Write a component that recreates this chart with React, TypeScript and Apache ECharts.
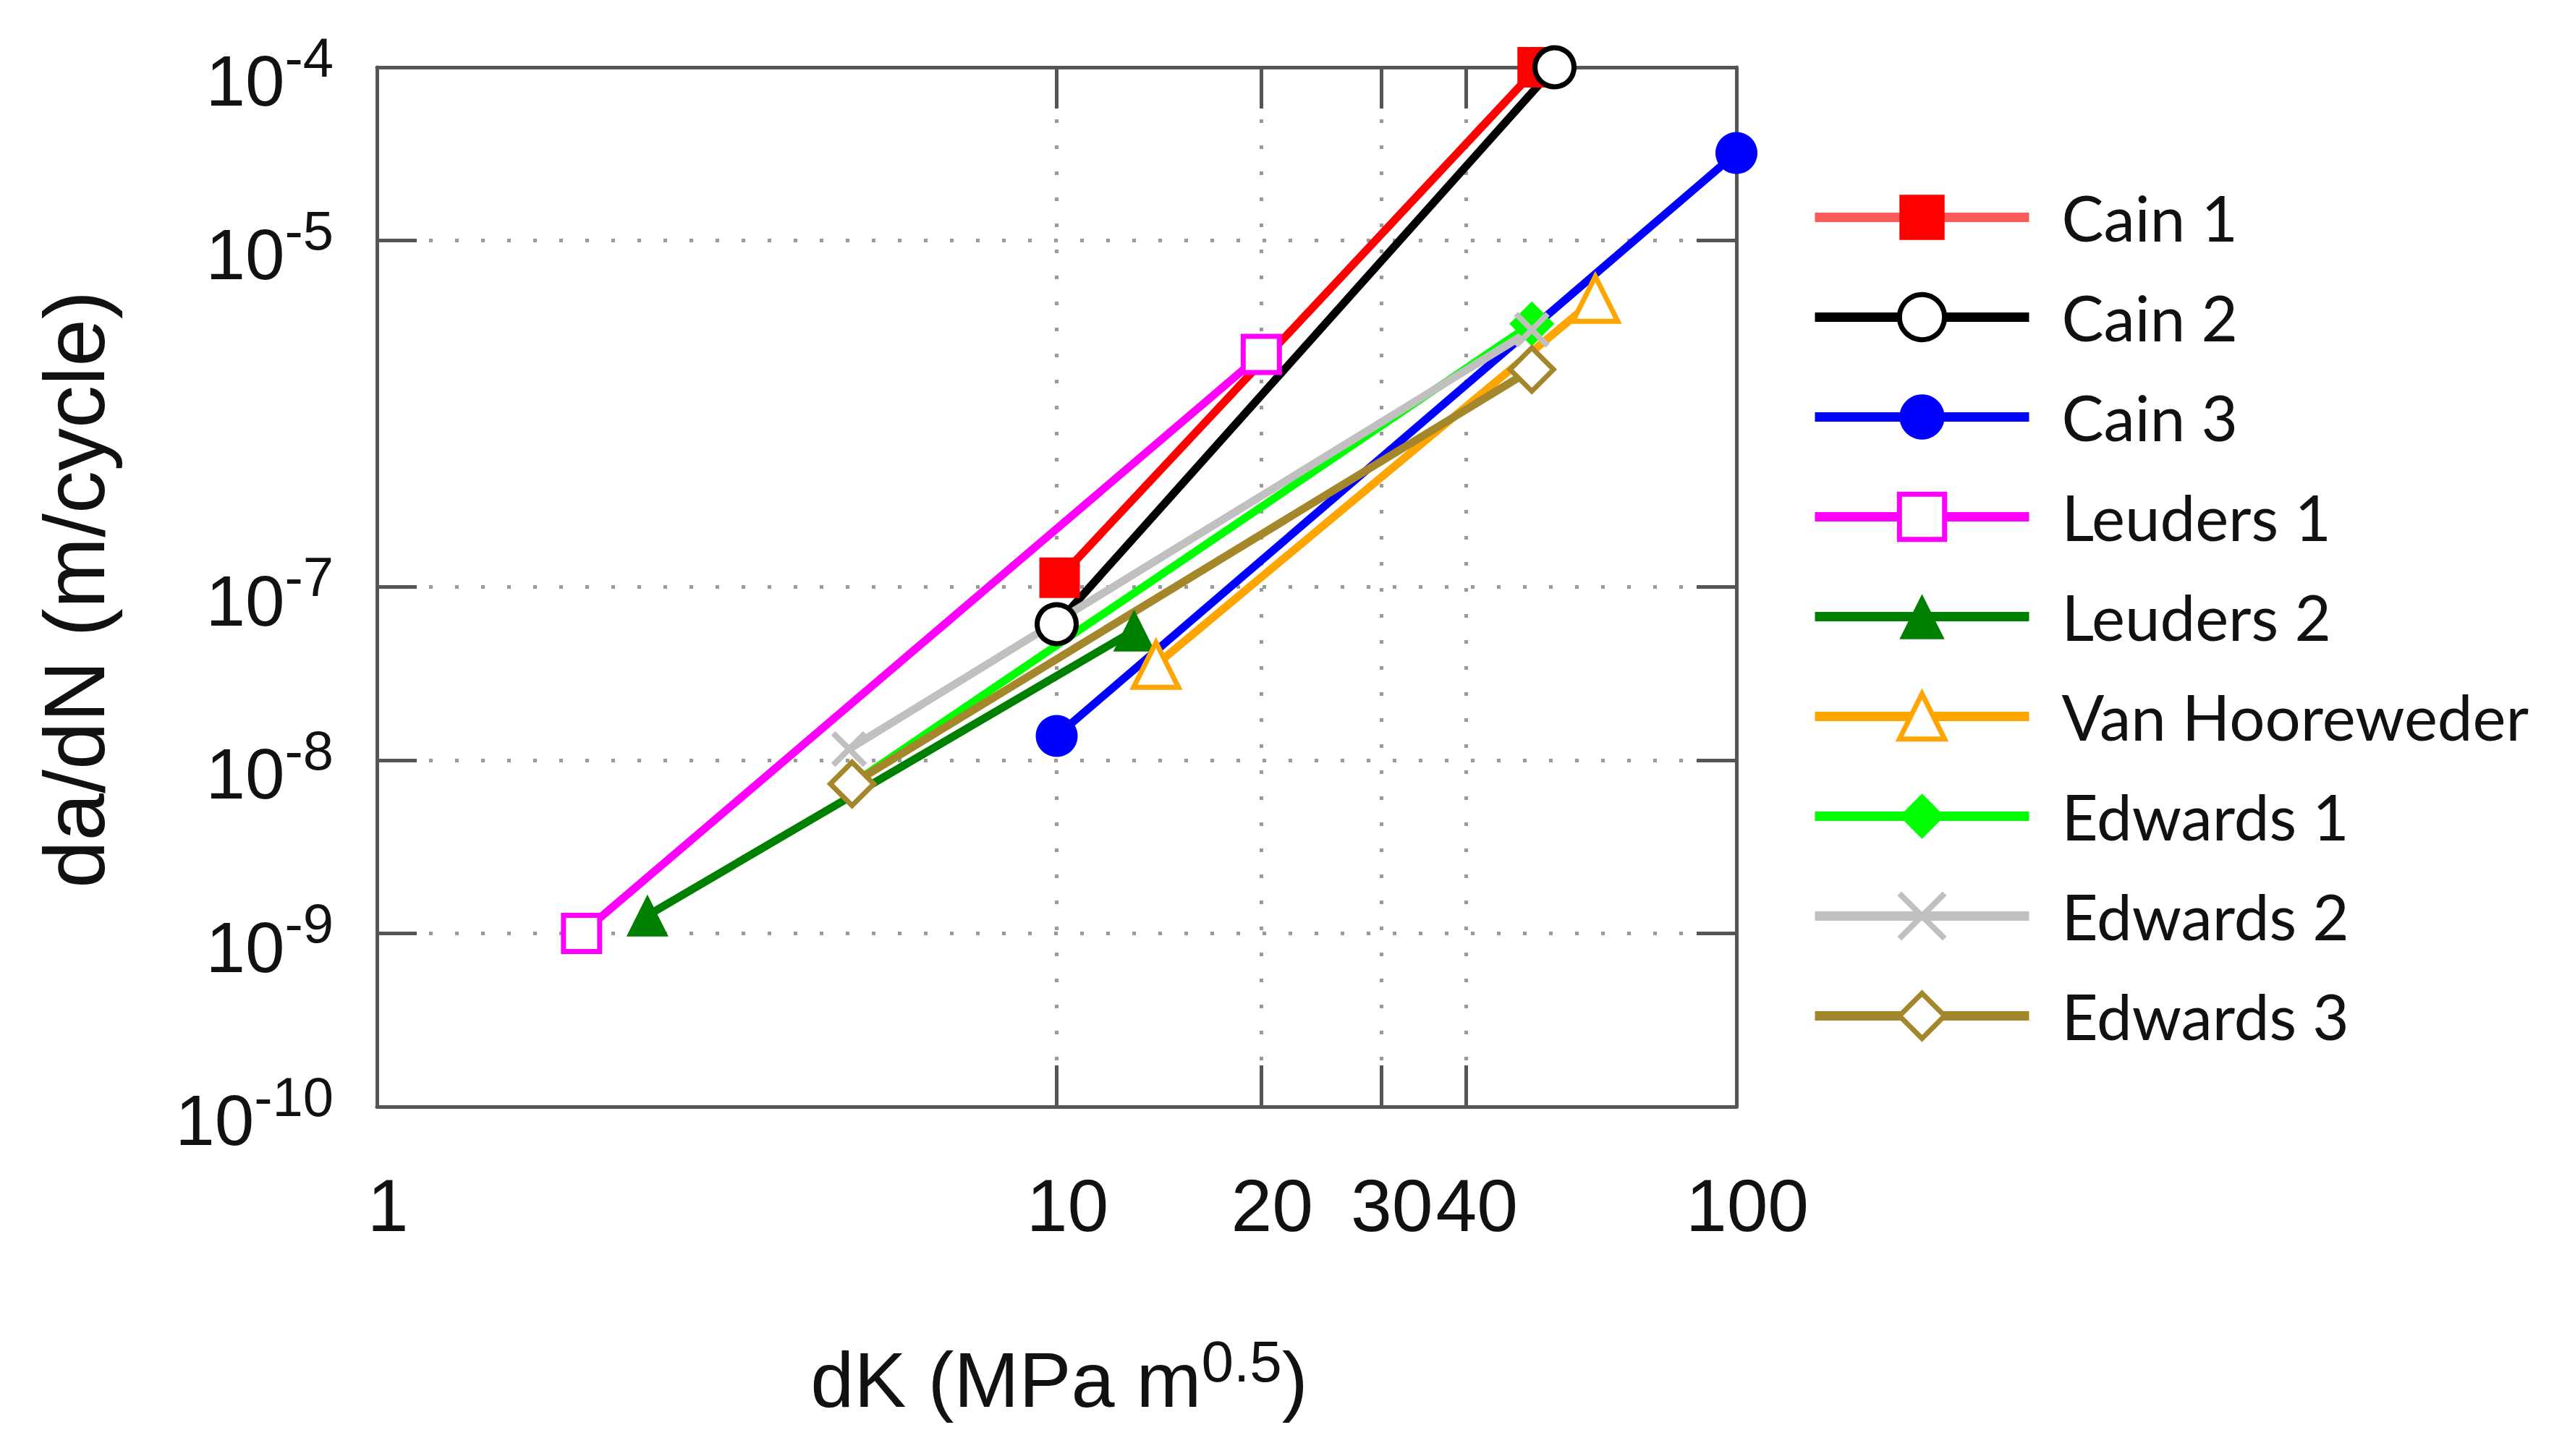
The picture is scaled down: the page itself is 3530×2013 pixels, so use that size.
import React, { useEffect, useRef } from "react";
import * as echarts from "echarts";

// ---------- data ----------
const seriesNames = [
  "Cain 1",
  "Cain 2",
  "Cain 3",
  "Leuders 1",
  "Leuders 2",
  "Van Hooreweder",
  "Edwards 1",
  "Edwards 2",
  "Edwards 3",
];

const cain1DK = [10.1, 51];
const cain1Rate = [1.13e-7, 1e-4];
const cain2DK = [10, 54];
const cain2Rate = [6.1e-8, 1e-4];
const cain3DK = [10, 100];
const cain3Rate = [1.38e-8, 3.2e-5];
const leuders1DK = [2, 20];
const leuders1Rate = [1e-9, 2.2e-6];
const leuders2DK = [2.5, 13];
const leuders2Rate = [1.27e-9, 5.6e-8];
const vanHoorewederDK = [14, 62];
const vanHoorewederRate = [3.55e-8, 4.6e-6];
const edwards1DK = [5, 50];
const edwards1Rate = [7.3e-9, 3.3e-6];
const edwards2DK = [4.95, 50];
const edwards2Rate = [1.16e-8, 3.05e-6];
const edwards3DK = [5, 50];
const edwards3Rate = [7.3e-9, 1.8e-6];

const xTickValues = [10, 20, 30, 40];
const xLabelValues = [1, 10, 20, 30, 40, 100];
const yTickValues = [1e-9, 1e-8, 1e-7, 1e-5];
const yLabelValues = [1e-10, 1e-9, 1e-8, 1e-7, 1e-5, 1e-4];

const xTitle = "dK (MPa m";
const xTitleSup = "0.5";
const yTitle = "da/dN (m/cycle)";

// ---------- styles ----------
const dkLists = [cain1DK, cain2DK, cain3DK, leuders1DK, leuders2DK, vanHoorewederDK, edwards1DK, edwards2DK, edwards3DK];
const rateLists = [cain1Rate, cain2Rate, cain3Rate, leuders1Rate, leuders2Rate, vanHoorewederRate, edwards1Rate, edwards2Rate, edwards3Rate];

const CROSS = "path://M0,0L10,10M10,0L0,10";
const seriesStyles = [
  { color: "#ff0000", fill: "#ff0000", symbol: "rect", size: 56, border: 0, legendLine: "#ff5a5a" },
  { color: "#000000", fill: "#ffffff", symbol: "circle", size: 54, border: 7 },
  { color: "#0000ff", fill: "#0000ff", symbol: "circle", size: 58, border: 0 },
  { color: "#ff00ff", fill: "#ffffff", symbol: "rect", size: 50, border: 7 },
  { color: "#008000", fill: "#008000", symbol: "triangle", size: 58, border: 0 },
  { color: "#ffa500", fill: "#ffffff", symbol: "triangle", size: 62, border: 7 },
  { color: "#00ff00", fill: "#00ff00", symbol: "diamond", size: 62, border: 0 },
  { color: "#c0c0c0", fill: "#c0c0c0", symbol: CROSS, size: 44, border: 8 },
  { color: "#a5872b", fill: "#ffffff", symbol: "diamond", size: 60, border: 7 },
];

const AXIS_COLOR = "#555555";
const GRID_COLOR = "#9a9a9a";
const NUM_FONT = "'Liberation Sans', Arial, sans-serif";
const LEGEND_FONT = "Lato, 'Open Sans', sans-serif";

function buildOption() {
  const series = seriesNames.map((name, i) => {
    const st = seriesStyles[i];
    return {
      type: "line",
      name,
      data: dkLists[i].map((x, j) => [x, rateLists[i][j]]),
      symbol: st.symbol,
      symbolSize: st.size,
      clip: false,
      lineStyle: { color: st.color, width: 11 },
      itemStyle: { color: st.fill, borderColor: st.color, borderWidth: st.border },
      emphasis: { disabled: true },
    };
  });

  const legendData = seriesNames.map((name, i) => {
    const st = seriesStyles[i];
    return {
      name,
      itemStyle: { color: st.fill, borderColor: st.color, borderWidth: st.border },
      lineStyle: { color: st.legendLine || st.color, width: 13 },
    };
  });

  const axisLine = { show: true, lineStyle: { color: AXIS_COLOR, width: 5 } };
  const tickStyle = { color: AXIS_COLOR, width: 5 };
  const gridLine = { show: true, lineStyle: { color: GRID_COLOR, width: 5, type: [5, 31] } };

  return {
    animation: false,
    backgroundColor: "#ffffff",
    grid: { left: 521, top: 93, width: 1879, height: 1437 },
    xAxis: [
      {
        type: "log",
        logBase: 10,
        min: 1,
        max: 100,
        position: "bottom",
        axisLine,
        axisTick: { show: true, inside: true, length: 57, customValues: xTickValues, lineStyle: tickStyle },
        axisLabel: {
          customValues: xLabelValues,
          margin: 86,
          fontSize: 102,
          fontFamily: NUM_FONT,
          color: "#111111",
          padding: [0, 0, 0, 30],
          formatter: (v: number) => String(Math.round(v)),
        },
        splitLine: gridLine,
      },
      {
        type: "log",
        logBase: 10,
        min: 1,
        max: 100,
        position: "top",
        axisLine,
        axisTick: { show: true, inside: true, length: 57, customValues: xTickValues, lineStyle: tickStyle },
        axisLabel: { show: false },
        splitLine: { show: false },
      },
    ],
    yAxis: [
      {
        type: "log",
        logBase: 10,
        min: 1e-10,
        max: 1e-4,
        position: "left",
        axisLine,
        axisTick: { show: true, inside: true, length: 55, customValues: yTickValues, lineStyle: tickStyle },
        axisLabel: {
          customValues: yLabelValues,
          margin: 60,
          color: "#111111",
          formatter: (v: number) => `{b|10}{s|${Math.round(Math.log10(v))}}`,
          rich: {
            b: { fontSize: 98, lineHeight: 98, fontFamily: NUM_FONT, color: "#111111", padding: [38, 0, 0, 0] },
            s: { fontSize: 76, lineHeight: 104, fontFamily: NUM_FONT, color: "#111111", verticalAlign: "top" },
          },
        },
        splitLine: gridLine,
      },
      {
        type: "log",
        logBase: 10,
        min: 1e-10,
        max: 1e-4,
        position: "right",
        axisLine,
        axisTick: { show: true, inside: true, length: 55, customValues: yTickValues, lineStyle: tickStyle },
        axisLabel: { show: false },
        splitLine: { show: false },
      },
    ],
    legend: {
      orient: "vertical",
      left: 2502,
      top: 257,
      padding: 0,
      itemWidth: 296,
      itemHeight: 78,
      itemGap: 51,
      selectedMode: false,
      textStyle: {
        fontFamily: LEGEND_FONT,
        fontSize: 87,
        color: "#111111",
        padding: [0, 0, 0, 40],
      },
      data: legendData,
    },
    graphic: [
      {
        type: "text",
        x: 103,
        y: 815,
        rotation: Math.PI / 2,
        style: {
          text: yTitle,
          fontSize: 118,
          fontFamily: NUM_FONT,
          fill: "#111111",
          align: "center",
          verticalAlign: "middle",
        },
      },
      {
        type: "text",
        x: 1464,
        y: 1907,
        style: {
          text: `{a|${xTitle}}{s|${xTitleSup}}{a|)}`,
          align: "center",
          verticalAlign: "middle",
          fill: "#111111",
          rich: {
            a: { fontSize: 108, lineHeight: 130, fontFamily: NUM_FONT, fill: "#111111" },
            s: { fontSize: 80, lineHeight: 64, fontFamily: NUM_FONT, fill: "#111111", verticalAlign: "top" },
          },
        },
      },
    ],
    series,
  };
}

export default function App() {
  const ref = useRef<HTMLDivElement>(null);
  useEffect(() => {
    if (!ref.current) return;
    const chart = echarts.init(ref.current, null, { renderer: "svg" });
    chart.setOption(buildOption() as any);
    return () => chart.dispose();
  }, []);
  return (
    <div
      ref={ref}
      style={{ position: "fixed", left: 0, top: 0, width: 3530, height: 2013, background: "#ffffff" }}
    />
  );
}
